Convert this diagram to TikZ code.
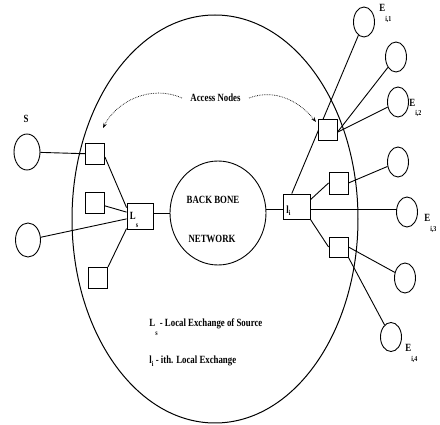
\documentclass[tikz,border=0pt]{standalone}
\usepackage{fontspec}
\setmainfont{Liberation Serif}[FakeStretch=0.8]
\usetikzlibrary{shapes.geometric,arrows.meta}
\begin{document}
\begin{tikzpicture}[x=1pt,y=-1pt,line width=0.9pt,
  box/.style={draw,fill=white,rectangle,minimum width=19pt,minimum height=21pt,inner sep=0pt},
  term/.style={draw,ellipse,minimum width=21pt,minimum height=30pt,inner sep=0pt},
  lbl/.style={font=\bfseries\fontsize{11}{12}\selectfont,inner sep=0pt},
  subs/.style={font=\bfseries\fontsize{7.5}{8}\selectfont,inner sep=0pt},
  dotarrow/.style={line width=0.7pt,densely dotted,-{Stealth[length=5pt,width=3.5pt]}}]
\useasboundingbox (0,0) rectangle (440,425);
% outer network and backbone
\node[draw,ellipse,minimum width=286pt,minimum height=408pt,inner sep=0pt,line width=1pt] (net) at (215,219) {};
\node[draw,ellipse,minimum width=96pt,minimum height=104pt,inner sep=0pt] (bb) at (218,213) {};
\node[lbl] (bbt1) at (213,200) {BACK BONE};
\node[lbl] (bbt2) at (212,239) {NETWORK};
% left side
\node[term,minimum width=26pt,minimum height=36pt] (s1) at (27,152) {};
\node[lbl] (slbl) at (26,119) {S};
\node[term,minimum width=25pt,minimum height=34pt] (s2) at (28,240) {};
\node[box] (a1) at (95,154) {};
\node[box] (a2) at (95,203) {};
\node[box] (a3) at (98,278) {};
\node[box,minimum width=26pt,minimum height=26pt] (ls) at (140,216) {};
\node[lbl,anchor=base west] (lstxt) at (129.5,220) {L\raisebox{-8pt}{\fontsize{7.5}{8}\selectfont s}};
\draw (s1) -- (a1);
\draw (a1.-17) -- (ls.148);
\draw (a2) -- (ls);
\draw (s2) -- (ls);
\draw (a3.north east) -- (ls.223);
\draw (ls.11) -- (ls.11 -| bb.west);
% right side
\node[box,minimum width=27pt,minimum height=25pt] (li) at (296.5,206.5) {};
\node[lbl,anchor=base west] (litxt) at (286,214) {l\raisebox{-2pt}{\fontsize{7.5}{8}\selectfont i}};
\node[term] (c1) at (364,22) {};
\node[term] (c2) at (396,57) {};
\node[term] (c3) at (398,102) {};
\node[term] (c4) at (398,162) {};
\node[term] (c5) at (407,212) {};
\node[term] (c6) at (405,278) {};
\node[term,minimum height=29pt] (c7) at (391,337) {};
\draw (li.193) -- (li.193 -| bb.east);
\draw (li.110) -- (c1);
\node[box] (squ) at (327.5,129.5) {};
\node[box,minimum height=22pt] (sqm) at (338.5,183) {};
\node[box,minimum height=20pt] (sql) at (338.5,247) {};
\draw (squ.-15) -- (c2);
\draw (squ.-15) -- (c3);
\draw (li.26) -- (sqm.west);
\draw (sqm.east) -- (c4);
\draw (li.-13) -- (li.-13 -| c5.west);
\draw (li.south east) -- (sql.west);
\draw (sql.east) -- (c6);
\draw (sql.south east) -- (c7);
% end labels
\node[lbl,anchor=base west] (e1) at (379,12) {E\raisebox{-10pt}{\fontsize{7.5}{8}\selectfont i,1}};
\node[lbl,anchor=base west] (e2) at (409,107) {E\raisebox{-9pt}{\fontsize{7.5}{8}\selectfont i,2}};
\node[lbl,anchor=base west] (e3) at (424,222) {E\raisebox{-10pt}{\fontsize{7.5}{8}\selectfont i,3}};
\node[lbl,anchor=base west] (e4) at (405,352) {E\raisebox{-10pt}{\fontsize{7.5}{8}\selectfont i,4}};
% access nodes
\node[lbl] (an) at (215.5,98) {Access Nodes};
\coordinate (tipL) at (103,128);
\coordinate (tipR) at (316,122);
\draw[dotarrow] ([xshift=-8pt]an.west) .. controls (150,84) and (116,102) .. (tipL);
\draw[dotarrow] ([xshift=8pt]an.east) .. controls (276,88) and (300,102) .. (tipR);
% legend
\node[lbl,anchor=base west] (leg1) at (149,327) {L\raisebox{-9pt}{\fontsize{7.5}{8}\selectfont s} - Local Exchange of Source};
\node[lbl,anchor=base west] (leg2) at (149,364) {l\raisebox{-2pt}{\fontsize{7.5}{8}\selectfont i} - ith. Local Exchange};
\end{tikzpicture}
\end{document}
